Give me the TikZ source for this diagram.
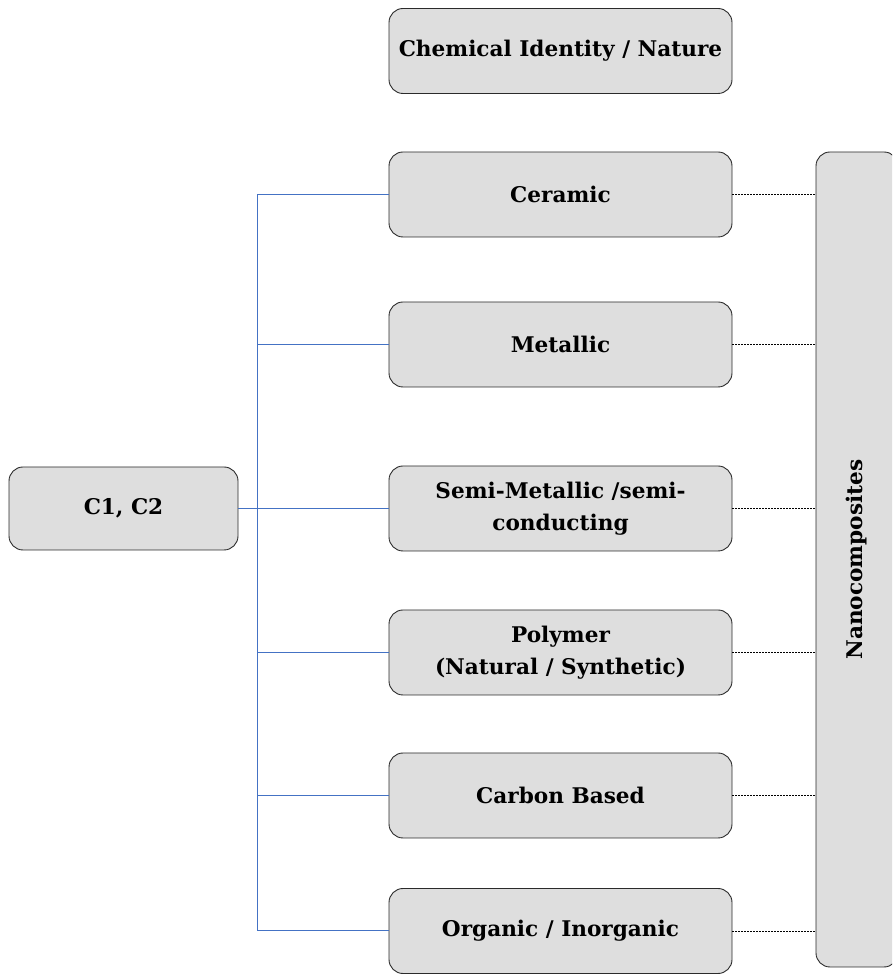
\documentclass[tikz,border=0pt]{standalone}
\usepackage{fontspec}
\setmainfont{DejaVu Serif}
\definecolor{boxfill}{HTML}{DEDEDE}
\definecolor{boxline}{HTML}{2B2B2B}
\definecolor{linkblue}{HTML}{4472C4}
\begin{document}
\begin{tikzpicture}[x=1pt,y=1pt,
  boxtext/.style={font=\fontsize{21.6}{32}\selectfont\bfseries,align=center},
  cat/.style={draw=boxline,line width=0.9pt,fill=boxfill,rounded corners=14pt,
    minimum width=343pt,minimum height=85pt,boxtext,inner sep=0pt},
  bluelink/.style={draw=linkblue,line width=1pt},
  dashlink/.style={draw=black,line width=0.7pt,dash pattern=on 2pt off 1pt}]
\useasboundingbox (0,0) rectangle (892,974);
\node[cat] (head) at (560.5,923) {Chemical Identity / Nature};
\node[cat] (cer) at (560.5,779.5) {Ceramic};
\node[cat] (met) at (560.5,629.5) {Metallic};
\node[cat] (semi) at (560.5,465.5) {Semi-Metallic /semi-\\conducting};
\node[cat] (poly) at (560.5,321.5) {Polymer\\(Natural / Synthetic)};
\node[cat] (carb) at (560.5,178.5) {Carbon Based};
\node[cat] (org) at (560.5,43) {Organic / Inorganic};
\node[cat,minimum width=229pt,minimum height=83pt] (c12) at (123.5,465.5) {C1, C2};
\begin{scope}
\clip (0,0) rectangle (892,974);
\draw[draw=boxline,line width=0.9pt,fill=boxfill,rounded corners=14pt] (816,7) rectangle (898,822);
\end{scope}
\coordinate (nanoleft) at (816,414);
\node[boxtext,rotate=90] (nano) at (857,414.5) {Nanocomposites};
\coordinate (jn) at (257.5,465.5);
\draw[bluelink,line width=1.5pt] (c12.east) -- (jn);
\draw[bluelink] (cer.west) -| (org.west -| jn) -- (org.west);
\foreach \n in {met,semi,poly,carb}
  \draw[bluelink] (\n.west) -- (\n.west -| jn);
\draw[bluelink,line width=1.6pt] (met.west -| jn) -- (poly.west -| jn);
\draw[bluelink,line width=1.3pt] (poly.west -| jn) -- (carb.west -| jn);
\foreach \n in {cer,met,semi,poly,carb,org}
  \draw[dashlink] (\n.east) -- (\n.east -| nanoleft);
\end{tikzpicture}
\end{document}
